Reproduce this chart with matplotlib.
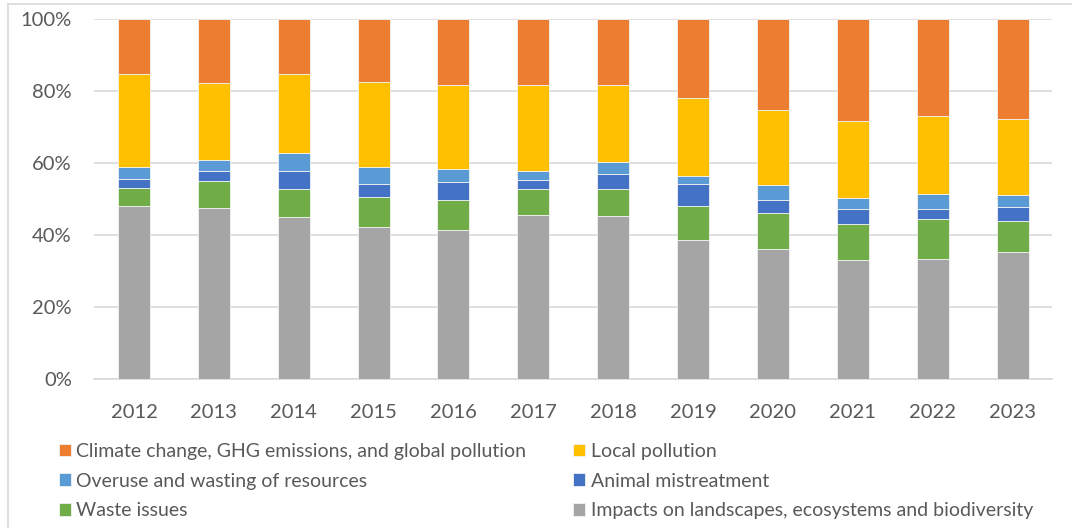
import matplotlib
matplotlib.use("Agg")
import matplotlib.pyplot as plt
import numpy as np
from matplotlib.lines import Line2D
from matplotlib.ticker import FuncFormatter

years = ["2012", "2013", "2014", "2015", "2016", "2017", "2018", "2019", "2020", "2021", "2022", "2023"]

impacts = [48.1, 47.5, 45.1, 42.2, 41.5, 45.6, 45.3, 38.6, 36.2, 33.1, 33.5, 35.3]
waste = [5.0, 7.5, 7.7, 8.4, 8.2, 7.3, 7.6, 9.5, 9.9, 10.0, 10.9, 8.6]
animal = [2.5, 2.9, 5.1, 3.6, 5.2, 2.5, 4.2, 6.0, 3.7, 4.3, 2.9, 4.0]
overuse = [3.4, 2.9, 4.8, 4.6, 3.6, 2.5, 3.3, 2.2, 4.0, 3.0, 4.0, 3.3]
local = [25.8, 21.5, 22.1, 23.8, 23.25, 23.9, 21.4, 21.9, 20.9, 21.4, 21.8, 21.0]
climate = [15.2, 17.7, 15.2, 17.4, 18.25, 18.2, 18.2, 21.8, 25.3, 28.2, 26.9, 27.8]

series_names = [
    "Impacts on landscapes, ecosystems and biodiversity",
    "Waste issues",
    "Animal mistreatment",
    "Overuse and wasting of resources",
    "Local pollution",
    "Climate change, GHG emissions, and global pollution",
]
series_values = [impacts, waste, animal, overuse, local, climate]
colors = ["#A5A5A5", "#70AD47", "#4472C4", "#5B9BD5", "#FFC000", "#ED7D31"]

plt.rcParams['font.family'] = ['Lato', 'DejaVu Sans']

fig = plt.figure(figsize=(10.72, 5.28), dpi=100)
ax = fig.add_axes([0.0877, 0.2816, 0.8941, 0.6824])

x = np.arange(len(years))
data = np.array(series_values, dtype=float)
totals = data.sum(axis=0)
pct = data / totals * 100
bottom = np.zeros(len(years))
handles = {}
for name, vals, c in zip(series_names, pct, colors):
    b = ax.bar(x, vals, bottom=bottom, width=0.4, color=c, edgecolor="#F2F2F2",
               linewidth=0.6, label=name, zorder=3)
    handles[name] = b
    bottom += vals

ax.set_xlim(-0.5, len(years) - 0.5)
ax.set_ylim(0, 100)
ax.set_yticks(np.arange(0, 101, 20))
ax.yaxis.set_major_formatter(FuncFormatter(lambda v, p: f"{int(v)}%"))
ax.set_xticks(x)
ax.set_xticklabels(years)
ax.grid(axis="y", color="#D9D9D9", linewidth=1.2, zorder=0)
for s in ["top", "right", "left"]:
    ax.spines[s].set_visible(False)
ax.spines["bottom"].set_color("#D9D9D9")
ax.spines["bottom"].set_linewidth(1.2)
ax.tick_params(axis="both", length=0, labelsize=14.5, colors="#595959")
ax.tick_params(axis="y", pad=16)
ax.tick_params(axis="x", pad=17.5)

order = [
    "Climate change, GHG emissions, and global pollution",
    "Overuse and wasting of resources",
    "Waste issues",
    "Local pollution",
    "Animal mistreatment",
    "Impacts on landscapes, ecosystems and biodiversity",
]
leg = fig.legend([handles[n] for n in order], order, ncol=2, loc="upper left",
                 bbox_to_anchor=(0.055, 0.1616), frameon=False, fontsize=14,
                 handlelength=0.6, handleheight=0.6, handletextpad=0.3,
                 columnspacing=2.4, labelspacing=0.66, labelcolor="#595959",
                 borderaxespad=0, borderpad=0)

# chart frame (left and top edges visible)
fig.add_artist(Line2D([8 / 1072, 8 / 1072], [0, 1 - 4 / 528], transform=fig.transFigure,
                      color="#D9D9D9", linewidth=1.2))
fig.add_artist(Line2D([8 / 1072, 1], [1 - 4 / 528, 1 - 4 / 528], transform=fig.transFigure,
                      color="#D9D9D9", linewidth=1.2))

fig.savefig("out.png", dpi=100)
